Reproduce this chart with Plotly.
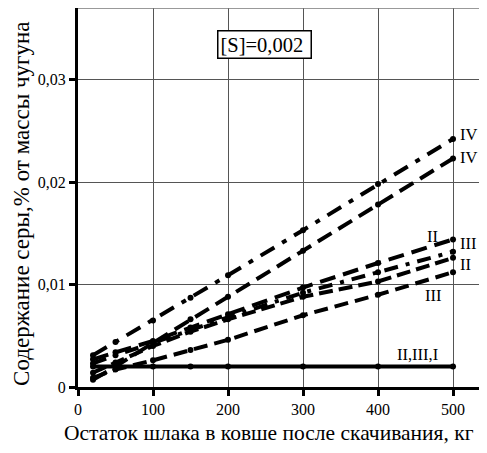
import plotly.graph_objects as go

x_vals = [20, 50, 100, 150, 200, 300, 400, 500]

iv_dashdot = [0.0031, 0.0044, 0.0065, 0.0087, 0.0109, 0.0153, 0.0198, 0.0242]
iv_dash = [0.0007, 0.0020, 0.0043, 0.0066, 0.0088, 0.0133, 0.0178, 0.0223]
iii_upper = [0.0027, 0.0034, 0.0045, 0.0058, 0.0071, 0.0097, 0.0121, 0.0144]
ii_dashdot = [0.0023, 0.0031, 0.0043, 0.0056, 0.0068, 0.0092, 0.0112, 0.0132]
ii_lower = [0.0014, 0.0024, 0.0040, 0.0054, 0.0066, 0.0088, 0.0103, 0.0126]
iii_lower = [0.0009, 0.0017, 0.0026, 0.0036, 0.0046, 0.0070, 0.0090, 0.0112]
base_line = [0.002, 0.002, 0.002, 0.002, 0.002, 0.002, 0.002, 0.002]

y_ticks = [0, 0.01, 0.02, 0.03]
y_tick_text = ["0", "0,01", "0,02", "0,03"]
x_ticks = [0, 100, 200, 300, 400, 500]

labels = [
    ("IV", 507, 0.0246),
    ("IV", 507, 0.0224),
    ("III", 507, 0.0140),
    ("II", 507, 0.0120),
    ("II", 462, 0.0147),
    ("III", 460, 0.0089),
    ("II,III,I", 452, 0.0032),
]

x_title = "Остаток шлака в ковше после скачивания, кг"
y_title = "Содержание серы,% от массы чугуна"

FONT = "Liberation Serif, Times New Roman, serif"

fig = go.Figure()

series = [
    (iv_dashdot, "16px,9px,5px,9px"),
    (iv_dash, "16px,8px"),
    (iii_upper, "16px,8px"),
    (ii_dashdot, "14px,8px,4px,8px"),
    (ii_lower, "14px,6px"),
    (iii_lower, "14px,7px"),
    (base_line, "solid"),
]
for vals, dash in series:
    fig.add_trace(go.Scatter(
        x=x_vals, y=vals, mode="lines+markers",
        line=dict(color="black", width=4, dash=dash),
        marker=dict(color="black", size=6),
        showlegend=False, hoverinfo="skip", cliponaxis=False,
    ))

for txt, lx, ly in labels:
    fig.add_annotation(x=lx, y=ly, text=txt, showarrow=False,
                       xanchor="left" if txt != "II,III,I" else "center",
                       yanchor="middle",
                       font=dict(family=FONT, size=16.5, color="black"))

fig.add_annotation(x=248, y=0.0334, text="[S]=0,002 ", showarrow=False,
                   font=dict(family=FONT, size=20.5, color="black"),
                   bordercolor="black", borderwidth=1.5, borderpad=2,
                   bgcolor="white")

# axis titles placed as annotations (paper coords)
fig.add_annotation(xref="paper", yref="paper", x=0.467, y=-0.121,
                   text=x_title, showarrow=False, xanchor="center", yanchor="middle",
                   font=dict(family=FONT, size=21.5, color="black"))
fig.add_annotation(xref="paper", yref="paper", x=-0.137, y=0.483,
                   text=y_title, showarrow=False, textangle=-90,
                   xanchor="center", yanchor="middle",
                   font=dict(family=FONT, size=23, color="black"))

fig.add_shape(type="line", xref="paper", yref="paper", x0=0, x1=1, y0=1, y1=1,
              line=dict(color="#777777", width=1.5))

fig.update_layout(
    width=479, height=445,
    margin=dict(l=70, r=0, t=0, b=66, autoexpand=False),
    plot_bgcolor="white", paper_bgcolor="white",
    font=dict(family=FONT, color="black", size=15),
    xaxis=dict(
        range=[0, 545.3], tickvals=x_ticks,
        showgrid=True, gridcolor="#555555", gridwidth=1,
        showline=True, linecolor="black", linewidth=3,
        ticks="outside", ticklen=6, tickwidth=3, tickcolor="black",
        zeroline=False, automargin=False,
        tickfont=dict(family=FONT, size=16),
    ),
    yaxis=dict(
        range=[0, 0.03698], tickvals=y_ticks, ticktext=y_tick_text,
        showgrid=True, gridcolor="#555555", gridwidth=1,
        showline=True, linecolor="black", linewidth=3,
        ticks="outside", ticklen=6, tickwidth=3, tickcolor="black",
        zeroline=False, automargin=False,
        tickfont=dict(family=FONT, size=16),
    ),
)

fig.write_html("out.html")
